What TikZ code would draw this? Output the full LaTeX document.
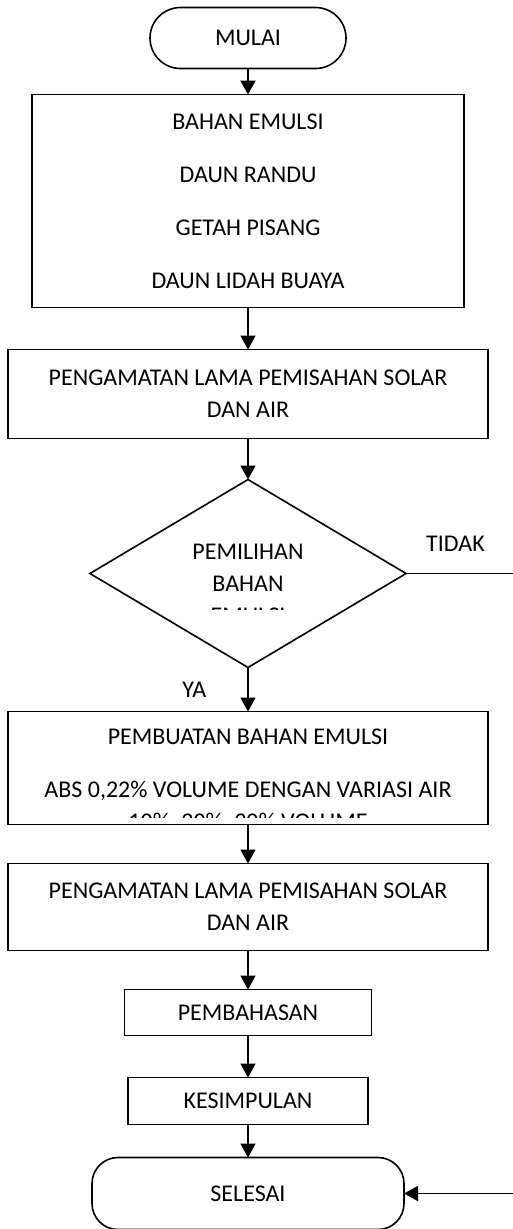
\documentclass[tikz,border=0pt]{standalone}
\usepackage{fontspec}
\setmainfont{Carlito}
\usetikzlibrary{arrows.meta, positioning, shapes.geometric, shapes.misc}
\newcommand{\isi}{\fontsize{24pt}{32pt}\selectfont}
\newcommand{\isilebar}{\fontsize{24pt}{53pt}\selectfont}

\begin{document}
\begin{tikzpicture}[
        x=1pt, y=1pt,
        box/.style={draw, line width=1.6pt, align=center, inner sep=0pt, outer sep=0pt, font=\isi},
        term/.style={box, rounded rectangle},
        lbl/.style={font=\isi, inner sep=0pt},
        potong/.style={lbl, anchor=center, shape=rectangle, draw=none, align=center,
            minimum width=0pt, minimum height=0pt},
        arrow/.style={-{Triangle[width=15pt, length=14pt]}, line width=1.6pt}
    ]
        \useasboundingbox (0,0) rectangle (512,-1229);

        \node[term, minimum width=196pt, minimum height=61pt] (mulai) at (248,-38) {MULAI};
        \node[box, below=26pt of mulai, minimum width=432pt, minimum height=213pt, font=\isilebar] (bahan)
            {BAHAN EMULSI\\DAUN RANDU\\GETAH PISANG\\DAUN LIDAH BUAYA};
        \node[box, below=42pt of bahan, minimum width=480pt, minimum height=89pt] (amat1)
            {PENGAMATAN LAMA PEMISAHAN SOLAR\\DAN AIR};

        % teks di dalam belah ketupat terpotong seperti aslinya
        \node[box, diamond, below=41pt of amat1, minimum width=316pt, minimum height=188pt,
            path picture={
                \clip (path picture bounding box.north west) rectangle ([yshift=-36pt]path picture bounding box.east);
                \node[potong] at ([yshift=-10pt]path picture bounding box.center) {PEMILIHAN\\BAHAN\\EMULSI};
            }] (pilih) {};

        \node[box, below=44pt of pilih, minimum width=480pt, minimum height=113pt,
            path picture={
                \clip (path picture bounding box.north west) rectangle ([yshift=-49.5pt]path picture bounding box.east);
                \node[potong] at ([yshift=-12.5pt]path picture bounding box.center)
                    {PEMBUATAN BAHAN EMULSI\\[21pt]ABS 0,22\% VOLUME DENGAN VARIASI AIR\\10\%, 20\%, 30\% VOLUME};
            }] (buat) {};

        \node[box, below=39pt of buat, minimum width=480pt, minimum height=87pt] (amat2)
            {PENGAMATAN LAMA PEMISAHAN SOLAR\\DAN AIR};
        \node[box, below=39pt of amat2, minimum width=247pt, minimum height=46pt] (bahas) {PEMBAHASAN};
        \node[box, below=42pt of bahas, minimum width=240pt, minimum height=47pt] (simpul) {KESIMPULAN};
        \node[box, rounded corners=26pt, below=33pt of simpul, minimum width=312pt, minimum height=72pt] (selesai) {SELESAI};

        \draw[arrow] (mulai) -- (bahan);
        \draw[arrow] (bahan) -- (amat1);
        \draw[arrow] (amat1) -- (pilih);
        \draw[arrow] (pilih) -- node[lbl, left=41pt]{YA} (buat);
        \draw[arrow] (pilih.east) -- node[lbl, pos=0.43, above=21pt]{TIDAK} ++(115,0) |- (selesai.east);
        \draw[arrow] (buat) -- (amat2);
        \draw[arrow] (amat2) -- (bahas);
        \draw[arrow] (bahas) -- (simpul);
        \draw[arrow] (simpul) -- (selesai);
    \end{tikzpicture}
\end{document}
